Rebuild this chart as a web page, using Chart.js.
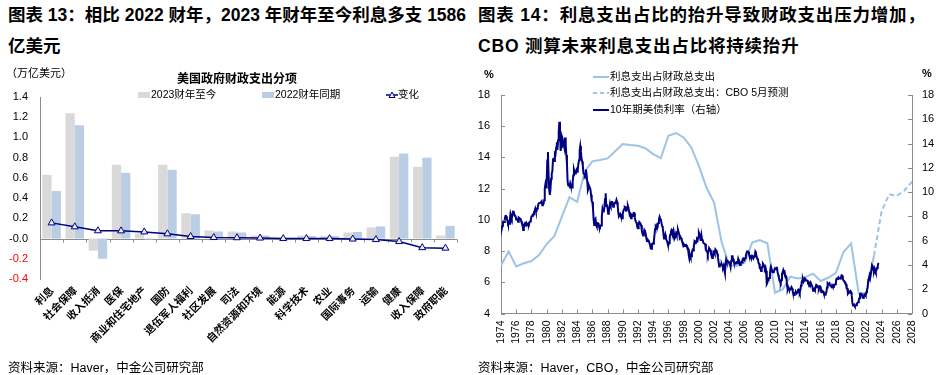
<!DOCTYPE html>
<html><head><meta charset="utf-8">
<script src="https://cdn.jsdelivr.net/npm/chart.js@4/dist/chart.umd.min.js"></script>
<style>
html,body{margin:0;padding:0;background:#fff;}
body{width:941px;height:375px;position:relative;overflow:hidden;font-family:"Liberation Sans","Noto Sans CJK SC",sans-serif;color:#000;}
.abs{position:absolute;white-space:nowrap;}
.hdr{font-size:17.5px;font-weight:bold;line-height:31px;}
.foot{font-size:12.5px;}
.small{font-size:10.5px;line-height:12px;}
canvas{position:absolute;top:0;}
.box{display:inline-block;width:12px;height:6px;vertical-align:middle;margin-right:1px;}
.lg{display:inline-block;vertical-align:middle;}
</style></head>
<body>
<div class="abs hdr" style="left:8px;top:0px;">图表 13：相比 2022 财年，2023 年财年至今利息多支 1586<br>亿美元</div>
<div class="abs hdr" style="left:478px;top:0px;letter-spacing:0.8px;">图表 14：利息支出占比的抬升导致财政支出压力增加，<br>CBO 测算未来利息支出占比将持续抬升</div>
<canvas id="c1" width="470" height="375" style="left:0;"></canvas>
<canvas id="c2" width="471" height="375" style="left:470px;"></canvas>
<div class="abs small" style="left:6px;top:67px;font-size:11px;">（万亿美元）</div>
<div class="abs" id="t1" style="left:177px;top:69px;font-size:12px;font-weight:bold;"></div>
<div id="lg1"></div>
<div class="abs small" style="left:484px;top:68px;font-size:11px;font-weight:bold;">%</div>
<div class="abs small" style="left:922px;top:67px;font-size:11px;font-weight:bold;">%</div>
<div id="lg2"></div>
<div class="abs foot" style="left:8px;top:357px;">资料来源：Haver，中金公司研究部</div>
<div class="abs foot" style="left:478px;top:357px;">资料来源：Haver，CBO，中金公司研究部</div>
<script>
// ---------- Chart 13 data ----------
const chart1Title = '美国政府财政支出分项';
const categories = ['利息','社会保障','收入抵消','医保','商业和住宅地产','国防','退伍军人福利','社区发展','司法','自然资源和环境','能源','科学技术','农业','国际事务','运输','健康','收入保障','政府职能'];
const seriesNames1 = ['2023财年至今','2022财年同期','变化'];
const fy2023 = [0.63,1.24,-0.12,0.73,0.05,0.73,0.25,0.08,0.07,0.03,0.005,0.03,0.025,0.06,0.11,0.81,0.71,0.03];
const fy2022 = [0.47,1.12,-0.20,0.65,-0.01,0.68,0.24,0.07,0.06,0.03,0.005,0.025,0.025,0.065,0.12,0.84,0.80,0.125];
const changeVals = [0.155,0.116,0.077,0.076,0.066,0.047,0.02,0.01,0.008,0.005,0.0,0.0,0.0,-0.005,-0.01,-0.03,-0.09,-0.095];
const yTicks1 = {min:-0.4,max:1.4,step:0.2};

// ---------- Chart 14 data ----------
const seriesNames2 = ['利息支出占财政总支出','利息支出占财政总支出：CBO 5月预测','10年期美债利率（右轴）'];
const shareYears = [1974,1975,1976,1977,1978,1979,1980,1981,1982,1983,1984,1985,1986,1987,1988,1989,1990,1991,1992,1993,1994,1995,1996,1997,1998,1999,2000,2001,2002,2003,2004,2005,2006,2007,2008,2009,2010,2011,2012,2013,2014,2015,2016,2017,2018,2019,2020,2021,2022,2023];
const shareVals = [7.08,7.98,7.02,7.22,7.36,7.75,8.45,8.95,10.2,11.45,11.15,13.1,13.75,13.83,13.94,14.4,14.86,14.79,14.75,14.58,14.21,13.96,15.39,15.56,15.28,14.64,13.46,12.07,11.1,8.54,7.08,7.04,7.25,8.54,8.71,8.5,5.33,5.54,6.36,6.25,6.33,6.55,6.08,6.29,6.61,7.94,8.48,5.3,5.3,7.7];
const cboYears = [2023,2024,2025,2026,2027,2028];
const cboVals = [7.7,10.55,11.64,11.53,11.88,12.45];
const yieldStartYear = 1974;
const yield10y = [
6.99,6.96,7.21,7.51,7.58,7.54,7.81,8.04,8.04,7.90,7.68,7.43,
7.50,7.39,7.73,8.23,8.06,7.86,8.06,8.40,8.43,8.14,8.05,8.00,
7.74,7.79,7.73,7.56,7.90,7.86,7.83,7.77,7.59,7.41,7.29,6.87,
7.21,7.39,7.46,7.37,7.46,7.28,7.33,7.40,7.34,7.52,7.58,7.69,
8.01,8.04,8.15,8.15,8.35,8.46,8.64,8.41,8.42,8.64,8.81,9.01,
9.10,9.10,9.12,9.18,9.25,8.91,8.95,9.03,9.33,10.30,10.65,10.39,
10.80,12.60,13.30,11.47,10.18,9.78,10.25,11.10,11.51,11.75,12.68,12.84,
12.57,13.19,13.12,13.68,14.10,13.47,14.28,14.94,15.80,15.15,13.39,13.72,
14.59,14.43,13.86,13.87,13.62,14.50,13.95,13.06,12.34,10.91,10.55,10.54,
10.46,10.72,10.51,10.40,10.38,10.85,11.38,11.85,11.65,11.54,11.69,11.83,
11.67,11.84,12.32,12.63,13.41,13.80,13.36,12.72,12.52,12.16,11.57,11.50,
11.38,11.51,11.86,11.43,10.85,10.16,10.31,10.33,10.37,10.24,9.78,9.26,
9.19,8.70,7.78,7.30,7.71,7.80,7.30,7.17,7.45,7.43,7.25,7.11,
7.08,7.25,7.25,8.02,8.61,8.40,8.45,8.76,9.42,9.90,8.86,8.99,
8.67,8.21,8.37,8.72,9.09,8.92,9.06,9.26,8.98,8.80,8.96,9.11,
9.09,9.17,9.36,9.18,8.86,8.28,8.02,8.11,8.19,8.01,7.87,7.84,
8.21,8.47,8.59,8.79,8.76,8.48,8.47,8.75,8.89,8.72,8.39,8.08,
8.09,7.85,8.11,8.04,8.07,8.28,8.27,7.90,7.65,7.53,7.42,7.09,
7.03,7.34,7.54,7.48,7.39,7.26,6.84,6.59,6.42,6.59,6.87,6.77,
6.60,6.26,5.98,5.97,6.04,5.96,5.81,5.68,5.36,5.33,5.72,5.77,
5.75,5.97,6.48,6.97,7.18,7.10,7.30,7.24,7.46,7.74,7.96,7.81,
7.78,7.47,7.20,7.06,6.63,6.17,6.28,6.49,6.20,6.04,5.93,5.71,
5.65,5.81,6.27,6.51,6.74,6.91,6.87,6.64,6.83,6.53,6.20,6.30,
6.58,6.42,6.69,6.89,6.71,6.49,6.22,6.30,6.21,6.03,5.88,5.81,
5.54,5.57,5.65,5.64,5.65,5.50,5.46,5.34,4.81,4.53,4.83,4.65,
4.72,5.00,5.23,5.18,5.54,5.90,5.79,5.94,5.92,6.11,6.03,6.28,
6.66,6.52,6.26,5.99,6.44,6.10,6.05,5.83,5.80,5.74,5.72,5.24,
5.16,5.10,4.89,5.14,5.39,5.28,5.24,4.97,4.73,4.57,4.65,5.09,
5.04,4.91,5.28,5.21,5.16,4.93,4.65,4.26,3.87,3.94,4.05,4.03,
4.05,3.90,3.81,3.96,3.57,3.33,3.98,4.45,4.27,4.29,4.30,4.27,
4.15,4.08,3.83,4.35,4.72,4.73,4.50,4.28,4.13,4.10,4.19,4.23,
4.22,4.17,4.50,4.34,4.14,4.00,4.18,4.26,4.20,4.46,4.54,4.47,
4.42,4.57,4.72,4.99,5.11,5.11,5.09,4.88,4.72,4.73,4.60,4.56,
4.76,4.72,4.56,4.69,4.75,5.10,5.00,4.67,4.52,4.53,4.15,4.10,
3.74,3.74,3.51,3.68,3.88,4.10,4.01,3.89,3.69,3.81,3.53,2.42,
2.52,2.87,2.82,2.93,3.29,3.72,3.56,3.59,3.40,3.39,3.40,3.59,
3.73,3.69,3.73,3.85,3.42,3.20,3.01,2.70,2.65,2.54,2.76,3.29,
3.39,3.58,3.41,3.46,3.17,3.00,3.00,2.30,1.98,2.15,2.01,1.98,
1.97,1.97,2.17,2.05,1.80,1.62,1.53,1.68,1.72,1.75,1.65,1.72,
1.91,1.98,1.96,1.76,1.93,2.30,2.58,2.74,2.81,2.62,2.72,2.90,
2.86,2.71,2.72,2.71,2.56,2.60,2.54,2.42,2.53,2.30,2.33,2.21,
1.88,1.98,2.04,1.94,2.20,2.36,2.32,2.17,2.17,2.07,2.26,2.24,
2.09,1.78,1.89,1.81,1.81,1.64,1.50,1.56,1.63,1.76,2.14,2.49,
2.43,2.42,2.48,2.30,2.30,2.19,2.32,2.21,2.20,2.36,2.35,2.40,
2.58,2.86,2.84,2.87,2.98,2.91,2.89,2.89,3.00,3.15,3.12,2.83,
2.71,2.68,2.57,2.53,2.40,2.07,2.06,1.63,1.70,1.71,1.81,1.86,
1.76,1.50,0.87,0.66,0.67,0.73,0.62,0.65,0.68,0.79,0.87,0.93,
1.08,1.26,1.61,1.64,1.62,1.52,1.32,1.28,1.37,1.58,1.56,1.47,
1.76,1.93,2.13,2.75,2.90,3.14,2.90,2.90,3.52,3.98,3.89,3.62,
3.53,3.75,3.66,3.46,3.57,3.75,3.90,4.17
];
const xAxis2 = {min:1974,max:2028,step:2};
const yLeft2 = {min:4,max:18,step:2};
const yRight2 = {min:0,max:18,step:2};

// ---------- colors ----------
const GRAY_BAR = '#d9d9d9', BLUE_BAR = '#b9cde5', NAVY = '#000080', LIGHT = '#9dc3e6', AXIS = '#8c8c8c';

// ---------- HTML legends / title ----------
document.getElementById('t1').textContent = chart1Title;
const lg1 = document.getElementById('lg1');
lg1.innerHTML =
 '<div class="abs small" style="left:138px;top:88px;"><span class="box" style="background:'+GRAY_BAR+'"></span>'+seriesNames1[0]+'</div>'+
 '<div class="abs small" style="left:262px;top:88px;"><span class="box" style="background:'+BLUE_BAR+'"></span>'+seriesNames1[1]+'</div>'+
 '<div class="abs small" style="left:386px;top:88px;"><svg class="lg" width="12" height="8"><line x1="0" y1="4" x2="12" y2="4" stroke="'+NAVY+'" stroke-width="1.5"/><polygon points="6,1 9,6.5 3,6.5" fill="#e8eefa" stroke="'+NAVY+'" stroke-width="1"/></svg>'+seriesNames1[2]+'</div>';
const lg2 = document.getElementById('lg2');
lg2.innerHTML =
 '<div class="abs small" style="left:593px;top:70px;"><svg class="lg" width="17" height="6"><line x1="0" y1="3" x2="16" y2="3" stroke="'+LIGHT+'" stroke-width="2"/></svg>'+seriesNames2[0]+'</div>'+
 '<div class="abs small" style="left:593px;top:86px;"><svg class="lg" width="17" height="6"><line x1="0" y1="3" x2="16" y2="3" stroke="'+LIGHT+'" stroke-width="2" stroke-dasharray="4,3"/></svg>'+seriesNames2[1]+'</div>'+
 '<div class="abs small" style="left:593px;top:103px;"><svg class="lg" width="17" height="6"><line x1="0" y1="3" x2="16" y2="3" stroke="'+NAVY+'" stroke-width="2"/></svg>'+seriesNames2[2]+'</div>';

// ---------- plugins ----------
const innerTicks = {
  id: 'innerTicks',
  afterDraw(chart, args, opts) {
    if (!opts.axes) return;
    const ctx = chart.ctx;
    ctx.save(); ctx.strokeStyle = AXIS; ctx.lineWidth = 1;
    opts.axes.forEach(id => {
      const s = chart.scales[id];
      s.ticks.forEach(t => {
        const p = Math.round(s.getPixelForValue(t.value)) + 0.5;
        ctx.beginPath();
        if (s.isHorizontal()) { ctx.moveTo(p, s.top); ctx.lineTo(p, s.top - 4); }
        else if (s.position === 'left') { ctx.moveTo(s.right, p); ctx.lineTo(s.right + 4, p); }
        else { ctx.moveTo(s.left, p); ctx.lineTo(s.left - 4, p); }
        ctx.stroke();
      });
    });
    ctx.restore();
  }
};
const zeroLine = {
  id: 'zeroLine',
  beforeDatasetsDraw(chart, args, opts) {
    if (!opts.on) return;
    const x = chart.scales.x, y = chart.scales.y, ctx = chart.ctx;
    const y0 = Math.round(y.getPixelForValue(0)) + 0.5;
    ctx.save(); ctx.strokeStyle = AXIS; ctx.lineWidth = 1;
    ctx.beginPath(); ctx.moveTo(x.left, y0); ctx.lineTo(x.right, y0); ctx.stroke();
    const n = categories.length;
    for (let i = 0; i <= n; i++) {
      const px = Math.round(x.left + (x.right - x.left) * i / n) + 0.5;
      ctx.beginPath(); ctx.moveTo(px, y0); ctx.lineTo(px, y0 + 3); ctx.stroke();
    }
    ctx.restore();
  }
};

// ---------- Chart 13 ----------
new Chart(document.getElementById('c1'), {
  data: {
    labels: categories,
    datasets: [
      {type:'line', label:seriesNames1[2], data:changeVals, borderColor:NAVY, borderWidth:1.5,
       pointStyle:'triangle', pointRadius:4, pointBackgroundColor:'#e8eefa', pointBorderColor:NAVY, pointBorderWidth:1, order:0},
      {type:'bar', label:seriesNames1[0], data:fy2023, backgroundColor:GRAY_BAR, categoryPercentage:0.8, barPercentage:1.0, order:1},
      {type:'bar', label:seriesNames1[1], data:fy2022, backgroundColor:BLUE_BAR, categoryPercentage:0.8, barPercentage:1.0, order:1}
    ]
  },
  options: {
    responsive:false, animation:false, devicePixelRatio:1,
    layout:{padding:{left:0, right:13, top:97, bottom:0}},
    plugins:{legend:{display:false}, tooltip:{enabled:false}, zeroLine:{on:true}},
    scales:{
      x:{grid:{display:false, drawTicks:false}, border:{display:false},
         afterFit(s){ s.height = 96; },
         ticks:{autoSkip:false, maxRotation:45, minRotation:45, padding:5, color:'#000',
                font:{family:'"Noto Sans CJK SC"', size:10.5, weight:'bold'}}},
      y:{min:yTicks1.min, max:yTicks1.max, grid:{display:false, drawTicks:false}, border:{display:true, color:AXIS},
         afterFit(s){ s.width = 40; },
         ticks:{stepSize:yTicks1.step, padding:12, font:{family:'"Liberation Sans"', size:11},
                color:(c)=> c.tick.value < -1e-9 ? '#ff0000' : '#000',
                callback:(v)=> Number(v).toFixed(1)}}
    }
  },
  plugins:[zeroLine]
});

// ---------- Chart 14 ----------
const sharePts = shareYears.map((yr,i)=>({x:yr, y:shareVals[i]}));
const cboPts = cboYears.map((yr,i)=>({x:yr, y:cboVals[i]}));
const yieldPts = yield10y.map((v,i)=>({x:yieldStartYear + i/12, y:v}));
new Chart(document.getElementById('c2'), {
  type:'line',
  data:{
    datasets:[
      {label:seriesNames2[2], data:yieldPts, yAxisID:'y1', borderColor:NAVY, borderWidth:2, pointRadius:0, tension:0},
      {label:seriesNames2[0], data:sharePts, yAxisID:'y', borderColor:LIGHT, borderWidth:2, pointRadius:0, tension:0},
      {label:seriesNames2[1], data:cboPts, yAxisID:'y', borderColor:LIGHT, borderWidth:2, borderDash:[5,3], pointRadius:0, tension:0}
    ]
  },
  options:{
    responsive:false, animation:false, devicePixelRatio:1, parsing:true,
    layout:{padding:{left:0, right:0, top:95, bottom:0}},
    plugins:{legend:{display:false}, tooltip:{enabled:false}, innerTicks:{axes:['x','y','y1']}},
    scales:{
      x:{type:'linear', min:xAxis2.min, max:xAxis2.max, grid:{display:false, drawTicks:false}, border:{display:true, color:AXIS},
         afterFit(s){ s.height = 61.5; },
         ticks:{stepSize:xAxis2.step, autoSkip:false, maxRotation:90, minRotation:90, padding:7, color:'#000',
                font:{family:'"Liberation Sans"', size:10.5}, callback:(v)=> String(v)}},
      y:{position:'left', min:yLeft2.min, max:yLeft2.max, grid:{display:false, drawTicks:false}, border:{display:true, color:AXIS},
         afterFit(s){ s.width = 31; },
         ticks:{stepSize:yLeft2.step, padding:11, color:'#000', font:{family:'"Liberation Sans"', size:11}}},
      y1:{position:'right', min:yRight2.min, max:yRight2.max, grid:{display:false, drawTicks:false}, border:{display:true, color:AXIS},
         afterFit(s){ s.width = 29; },
         ticks:{stepSize:yRight2.step, padding:10, color:'#000', font:{family:'"Liberation Sans"', size:11}}}
    }
  },
  plugins:[innerTicks]
});
</script>
</body></html>
